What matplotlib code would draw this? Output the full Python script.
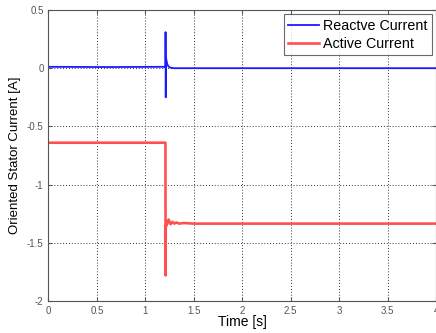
import matplotlib.pyplot as plt

plt.rcParams['font.family'] = ['Liberation Sans', 'DejaVu Sans']

# reactive current (blue)
t_reactive = [0.0, 0.6, 1.208, 1.209, 1.211, 1.213, 1.218, 1.225, 1.235, 1.25, 1.27, 1.3, 1.4, 4.0]
i_reactive = [0.012, 0.01, 0.012, 0.31, -0.25, 0.09, 0.07, 0.04, 0.02, 0.008, 0.003, 0.0, 0.0, 0.0]

# active current (red)
t_active = [0.0, 1.208, 1.209, 1.211, 1.22, 1.24, 1.26, 1.28, 1.30, 1.32, 1.35, 1.4, 1.5, 4.0]
i_active = [-0.64, -0.64, -1.78, -1.36, -1.35, -1.30, -1.34, -1.32, -1.335, -1.325, -1.335, -1.33, -1.335, -1.335]

x_ticks = [0, 0.5, 1, 1.5, 2, 2.5, 3, 3.5, 4]
x_labels = ['0', '0.5', '1', '1.5', '2', '2.5', '3', '3.5', '4']
y_ticks = [-2, -1.5, -1, -0.5, 0, 0.5]
y_labels = ['-2', '-1.5', '-1', '-0.5', '0', '0.5']

fig = plt.figure(figsize=(4.36, 3.33), dpi=100)
ax = fig.add_axes([0.111, 0.096, 0.889, 0.874])

ax.plot(t_reactive, i_reactive, color='#1a1aff', lw=1.3, label='Reactve Current')
ax.plot(t_active, i_active, color='#ff5050', lw=1.9, label='Active Current')

ax.set_xlim(0, 4)
ax.set_ylim(-2, 0.5)
ax.set_xticks(x_ticks)
ax.set_xticklabels(x_labels)
ax.set_yticks(y_ticks)
ax.set_yticklabels(y_labels)
ax.tick_params(labelsize=7, colors='#555555', length=3, direction='in', top=True, right=True)
ax.grid(True, color='#333333', linestyle=(0, (1, 2)), lw=0.7)
for s in ax.spines.values():
    s.set_color('#555555')

ax.set_xlabel('Time [s]', fontsize=10, labelpad=-1)
ax.set_ylabel('Oriented Stator Current [A]', fontsize=9.5, labelpad=4)

leg = ax.legend(loc='upper right', fontsize=10.3, frameon=True, fancybox=False,
                edgecolor='#444444', borderpad=0.3, handlelength=2.15,
                labelspacing=0.3, borderaxespad=0.3, handletextpad=0.3)
leg.get_frame().set_linewidth(0.8)

fig.savefig('out.png', dpi=100)
